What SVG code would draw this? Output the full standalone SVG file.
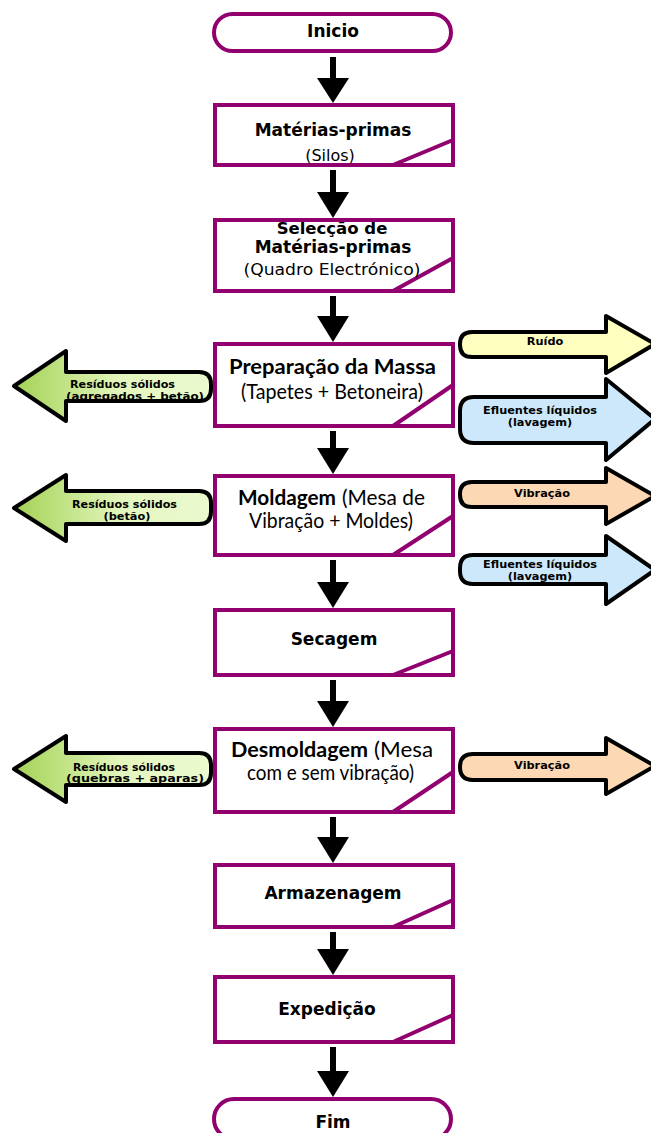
<svg xmlns="http://www.w3.org/2000/svg" width="651" height="1133" viewBox="0 0 651 1133">
<style>
.box{fill:#fff;stroke:#91006e;stroke-width:4}
.diag{stroke:#91006e;stroke-width:4;fill:none}
.term{fill:#fff;stroke:#91006e;stroke-width:4}
.conn{fill:#000;stroke:none}
.side{stroke:#000;stroke-width:4;stroke-linejoin:round}
.tb{font-family:"DejaVu Sans",sans-serif;font-weight:bold;font-size:17px;fill:#000;text-anchor:middle}
.tr{font-family:"DejaVu Sans",sans-serif;font-size:16px;fill:#000;text-anchor:middle}
.cb{font-family:Lato,"Liberation Sans",sans-serif;font-weight:bold;font-size:21px;fill:#000}
.cr{font-family:Lato,"Liberation Sans",sans-serif;font-size:21px;fill:#000}
.lb{font-family:"DejaVu Sans",sans-serif;font-weight:bold;font-size:11.3px;fill:#000;text-anchor:middle}
.lbs{font-family:"DejaVu Sans",sans-serif;font-weight:bold;font-size:11.3px;fill:#000}
</style>
<defs>
<linearGradient id="gGreen" x1="0" y1="0" x2="1" y2="0">
<stop offset="0" stop-color="#a3d255"/>
<stop offset="0.55" stop-color="#e4f6be"/>
<stop offset="1" stop-color="#ecfad0"/>
</linearGradient>
</defs>

<g id="connectors">
<rect class="conn" x="330" y="57" width="6" height="22"/><polygon class="conn" points="317,78 349,78 333,103"/>
<rect class="conn" x="330" y="170" width="6" height="23"/><polygon class="conn" points="317,192 349,192 333,218"/>
<rect class="conn" x="330" y="296" width="6" height="21"/><polygon class="conn" points="317,316 349,316 333,342"/>
<rect class="conn" x="330" y="431" width="6" height="18"/><polygon class="conn" points="317,448 349,448 333,474"/>
<rect class="conn" x="330" y="560" width="6" height="23"/><polygon class="conn" points="317,582 349,582 333,608"/>
<rect class="conn" x="330" y="680" width="6" height="22"/><polygon class="conn" points="317,701 349,701 333,727"/>
<rect class="conn" x="330" y="817" width="6" height="21"/><polygon class="conn" points="317,837 349,837 333,863"/>
<rect class="conn" x="330" y="932" width="6" height="18"/><polygon class="conn" points="317,949 349,949 333,975"/>
<rect class="conn" x="330" y="1047" width="6" height="25"/><polygon class="conn" points="317,1071 349,1071 333,1097"/>
</g>

<g id="inicio">
<rect class="term" x="214" y="14" width="237" height="37" rx="18.5"/>
<text class="tb" x="333" y="37">Inicio</text>
</g>

<g id="materias-primas">
<rect class="box" x="215" y="105" width="238" height="60"/>
<line class="diag" x1="393" y1="165" x2="453" y2="140"/>
<text class="tb" x="333" y="136">Matérias-primas</text>
<text class="tr" x="330" y="161">(Silos)</text>
</g>

<g id="seleccao">
<rect class="box" x="215" y="220" width="238" height="71"/>
<line class="diag" x1="393" y1="291" x2="453" y2="258"/>
<text class="tb" x="332" y="234" style="font-size:16.5px">Selecção de</text>
<text class="tb" x="333" y="253">Matérias-primas</text>
<text class="tr" x="332" y="275" textLength="177" lengthAdjust="spacingAndGlyphs">(Quadro Electrónico)</text>
</g>

<g id="preparacao">
<rect class="box" x="215" y="344" width="238" height="82"/>
<line class="diag" x1="393" y1="426" x2="453" y2="385"/>
<text class="cb" x="229" y="374" textLength="207" lengthAdjust="spacingAndGlyphs">Preparação da Massa</text>
<text class="cr" x="241" y="399" textLength="182" lengthAdjust="spacingAndGlyphs">(Tapetes + Betoneira)</text>
</g>

<g id="moldagem">
<rect class="box" x="215" y="476" width="238" height="79"/>
<line class="diag" x1="393" y1="555" x2="453" y2="516"/>
<text class="cb" x="238" y="505" textLength="98" lengthAdjust="spacingAndGlyphs">Moldagem</text>
<text class="cr" x="342" y="505" textLength="83" lengthAdjust="spacingAndGlyphs">(Mesa de</text>
<text class="cr" x="249" y="528" textLength="164" lengthAdjust="spacingAndGlyphs">Vibração + Moldes)</text>
</g>

<g id="secagem">
<rect class="box" x="215" y="610" width="238" height="65"/>
<line class="diag" x1="393" y1="675" x2="453" y2="651"/>
<text class="tb" x="334" y="645">Secagem</text>
</g>

<g id="desmoldagem">
<rect class="box" x="215" y="729" width="238" height="83"/>
<line class="diag" x1="393" y1="812" x2="453" y2="772"/>
<text class="cb" x="231" y="757" textLength="137" lengthAdjust="spacingAndGlyphs">Desmoldagem</text>
<text class="cr" x="374" y="757" textLength="59" lengthAdjust="spacingAndGlyphs">(Mesa</text>
<text class="cr" x="247" y="780" textLength="167" lengthAdjust="spacingAndGlyphs">com e sem vibração)</text>
</g>

<g id="armazenagem">
<rect class="box" x="215" y="865" width="238" height="62"/>
<line class="diag" x1="393" y1="927" x2="453" y2="900"/>
<text class="tb" x="333" y="899">Armazenagem</text>
</g>

<g id="expedicao">
<rect class="box" x="215" y="977" width="238" height="65"/>
<line class="diag" x1="393" y1="1042" x2="453" y2="1015"/>
<text class="tb" x="327" y="1015">Expedição</text>
</g>

<g id="fim">
<rect class="term" x="214" y="1099" width="237" height="40" rx="20"/>
<text class="tb" x="333" y="1128">Fim</text>
</g>

<g id="residuos-1">
<path class="side" fill="url(#gGreen)" d="M14,386 L66,351 L66,372 L199,372 Q211,372 211,384 L211,389 Q211,401 199,401 L66,401 L66,421 Z"/>
<text class="lbs" x="70" y="388" textLength="105" lengthAdjust="spacingAndGlyphs">Resíduos sólidos</text>
<text class="lbs" x="66" y="400" textLength="138" lengthAdjust="spacingAndGlyphs">(agregados + betão)</text>
</g>

<g id="residuos-2">
<path class="side" fill="url(#gGreen)" d="M14,508 L66,475 L66,491 L199,491 Q211,491 211,503 L211,512 Q211,524 199,524 L66,524 L66,541 Z"/>
<text class="lbs" x="72" y="508" textLength="105" lengthAdjust="spacingAndGlyphs">Resíduos sólidos</text>
<text class="lb" x="127" y="520">(betão)</text>
</g>

<g id="residuos-3">
<path class="side" fill="url(#gGreen)" d="M14,769 L66,736 L66,753 L199,753 Q211,753 211,765 L211,773 Q211,785 199,785 L66,785 L66,802 Z"/>
<text class="lbs" x="73" y="771" textLength="102" lengthAdjust="spacingAndGlyphs">Resíduos sólidos</text>
<text class="lbs" x="66" y="782" textLength="138" lengthAdjust="spacingAndGlyphs">(quebras + aparas)</text>
</g>

<g id="ruido">
<path class="side" fill="#ffffbf" d="M472,332 L606,332 L606,316 L655,344 L606,373 L606,357 L472,357 Q460,357 460,345 L460,344 Q460,332 472,332 Z"/>
<text class="lb" x="545" y="345">Ruído</text>
</g>

<g id="efluentes-1">
<path class="side" fill="#cde8fb" d="M474,397 L606,397 L606,379 L655,419 L606,460 L606,443 L474,443 Q460,443 460,429 L460,411 Q460,397 474,397 Z"/>
<text class="lb" x="540" y="414">Efluentes líquidos</text>
<text class="lb" x="540" y="426">(lavagem)</text>
</g>

<g id="vibracao-1">
<path class="side" fill="#fcd8b4" d="M472,482 L606,482 L606,468 L655,496 L606,524 L606,507 L472,507 Q460,507 460,495 L460,494 Q460,482 472,482 Z"/>
<text class="lb" x="542" y="497">Vibração</text>
</g>

<g id="efluentes-2">
<path class="side" fill="#cde8fb" d="M473,555 L606,555 L606,536 L655,570 L606,604 L606,584 L473,584 Q460,584 460,571 L460,568 Q460,555 473,555 Z"/>
<text class="lb" x="540" y="568">Efluentes líquidos</text>
<text class="lb" x="540" y="580">(lavagem)</text>
</g>

<g id="vibracao-2">
<path class="side" fill="#fcd8b4" d="M473,754 L606,754 L606,738 L655,766 L606,794 L606,780 L473,780 Q460,780 460,767 L460,767 Q460,754 473,754 Z"/>
<text class="lb" x="542" y="769">Vibração</text>
</g>
</svg>
